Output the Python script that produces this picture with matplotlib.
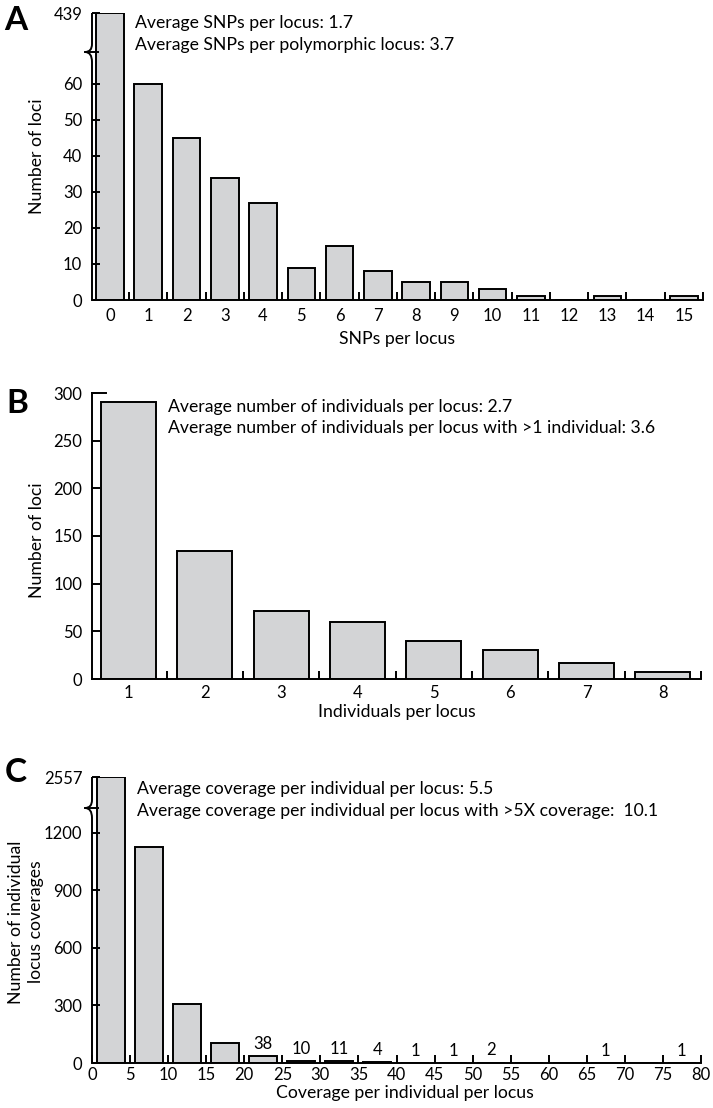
import matplotlib
matplotlib.use('Agg')
import matplotlib.pyplot as plt
import numpy as np
from matplotlib.path import Path
from matplotlib.patches import PathPatch

plt.rcParams['font.family'] = ['Lato', 'DejaVu Sans']

# Panel A data: SNPs per locus
snp_values = list(range(16))
snp_loci = [439, 60, 45, 34, 27, 9, 15, 8, 5, 5, 3, 1, 0, 1, 0, 1]
snp_yticks = [0, 10, 20, 30, 40, 50, 60, 439]

# Panel B data: individuals per locus
ind_values = list(range(1, 9))
ind_loci = [291, 134, 71, 60, 40, 30, 17, 7]
ind_yticks = [0, 50, 100, 150, 200, 250, 300]

# Panel C data: coverage per individual per locus (5X bins)
cov_bins = list(range(0, 80, 5))
cov_counts = [2557, 1127, 308, 105, 38, 10, 11, 4, 1, 1, 2, 0, 0, 1, 0, 1]
cov_yticks = [0, 300, 600, 900, 1200, 2557]
cov_xticks = list(range(0, 85, 5))

FIG_W, FIG_H = 713, 1108
BAR_FC = '#d3d4d6'
LW = 1.4
TXT = 12.7
TICK = 12


def px(x, y):
    # pixel position (from top-left) to figure fraction
    return x / FIG_W, 1 - y / FIG_H


def axes_box(left, top, right, bottom):
    return [left / FIG_W, 1 - bottom / FIG_H, (right - left) / FIG_W, (bottom - top) / FIG_H]


def broken(t, s):
    # linear up to t, compressed above t
    def fwd(y):
        y = np.asarray(y, float)
        return np.where(y <= t, y, t + (y - t) * s)

    def inv(y):
        y = np.asarray(y, float)
        return np.where(y <= t, y, t + (y - t) / s)
    return fwd, inv


def style_axes(ax, hide_left=False):
    for side in ['top', 'right']:
        ax.spines[side].set_visible(False)
    ax.spines['left'].set_linewidth(LW)
    ax.spines['bottom'].set_linewidth(LW)
    if hide_left:
        ax.spines['left'].set_visible(False)
    ax.tick_params(axis='both', direction='in', width=LW, length=6, labelsize=TICK)
    ax.tick_params(axis='x', which='minor', direction='in', width=LW, length=6)
    ax.tick_params(axis='y', pad=7)


def draw_break(ax, h_px, w_px, top_px, mid_px, bot_px, dx_px=7):
    yt, ym, yb = top_px / h_px, mid_px / h_px, bot_px / h_px
    dx = dx_px / w_px
    verts = [(0, 1), (0, yt), (0, ym), (-dx, ym), (0, ym), (0, yb), (0, 0)]
    codes = [Path.MOVETO, Path.LINETO, Path.CURVE3, Path.CURVE3,
             Path.CURVE3, Path.CURVE3, Path.LINETO]
    ax.add_patch(PathPatch(Path(verts, codes), fc='none', ec='black', lw=LW,
                           transform=ax.transAxes, clip_on=False, zorder=5))
    ax.plot([-dx, dx * 0.8], [ym, ym], color='black', lw=LW,
            transform=ax.transAxes, clip_on=False, zorder=5)


fig = plt.figure(figsize=(FIG_W / 100, FIG_H / 100), dpi=100)

# ---------------- Panel A ----------------
axA = fig.add_axes(axes_box(92, 13, 703, 300))
axA.set_yscale('function', functions=broken(66, 0.0367))
axA.bar(snp_values, snp_loci, width=0.72, color=BAR_FC, edgecolor='black', linewidth=LW)
axA.set_ylim(0, 439)
axA.set_xlim(-0.47, 15.5)
axA.set_yticks(snp_yticks)
axA.set_yticklabels([str(v) for v in snp_yticks])
axA.set_xticks(snp_values)
axA.set_xticks(np.arange(0.5, 16, 1), minor=True)
style_axes(axA, hide_left=True)
axA.tick_params(axis='x', which='major', length=0, pad=6)
axA.yaxis.set_minor_locator(matplotlib.ticker.NullLocator())
draw_break(axA, 287, 611, 256, 248, 238)

fig.text(*px(135, 28), 'Average SNPs per locus: 1.7', fontsize=TXT, va='baseline')
fig.text(*px(135, 50), 'Average SNPs per polymorphic locus: 3.7', fontsize=TXT, va='baseline')
fig.text(*px(37, 156), 'Number of loci', fontsize=TXT, rotation=90, ha='center', va='center')
fig.text(*px(397, 339), 'SNPs per locus', fontsize=TXT, ha='center', va='center')
fig.text(*px(4, 30), 'A', fontsize=24, fontweight='bold', va='baseline')

# ---------------- Panel B ----------------
axB = fig.add_axes(axes_box(92, 393, 701, 679))
axB.bar(ind_values, ind_loci, width=0.72, color=BAR_FC, edgecolor='black', linewidth=LW)
axB.set_ylim(0, 300)
axB.set_xlim(0.52, 8.5)
axB.set_yticks(ind_yticks)
axB.set_xticks(ind_values)
axB.set_xticks(np.arange(1.5, 9, 1), minor=True)
style_axes(axB)
axB.tick_params(axis='x', which='major', length=0, pad=4)
axB.plot([0, 14 / 609], [1, 1], color='black', lw=LW, transform=axB.transAxes, clip_on=False)

fig.text(*px(168, 412), 'Average number of individuals per locus: 2.7', fontsize=TXT, va='baseline')
fig.text(*px(168, 433), 'Average number of individuals per locus with >1 individual: 3.6',
         fontsize=TXT, va='baseline')
fig.text(*px(37, 540), 'Number of loci', fontsize=TXT, rotation=90, ha='center', va='center')
fig.text(*px(397, 712), 'Individuals per locus', fontsize=TXT, ha='center', va='center')
fig.text(*px(6, 413), 'B', fontsize=24, fontweight='bold', va='baseline')

# ---------------- Panel C ----------------
axC = fig.add_axes(axes_box(92, 777, 701, 1063))
axC.set_yscale('function', functions=broken(1250, 0.185))
cov_left = [b + 0.6 for b in cov_bins]
axC.bar(cov_left, cov_counts, width=3.7, align='edge', color=BAR_FC,
        edgecolor='black', linewidth=LW)
axC.set_ylim(0, 2557)
axC.set_xlim(0, 80)
axC.set_yticks(cov_yticks)
axC.set_yticklabels([str(v) for v in cov_yticks])
axC.yaxis.set_minor_locator(matplotlib.ticker.NullLocator())
axC.set_xticks(cov_xticks)
style_axes(axC, hide_left=True)
axC.tick_params(axis='x', which='major', pad=3)
draw_break(axC, 286, 609, 263, 255, 245)

for i, (b, c) in enumerate(zip(cov_bins, cov_counts)):
    if i >= 4 and c > 0:
        axC.annotate(str(c), (b + 2.45, c), xytext=(0, 3), textcoords='offset points',
                     ha='center', va='bottom', fontsize=TICK)

fig.text(*px(137, 794), 'Average coverage per individual per locus: 5.5', fontsize=TXT, va='baseline')
fig.text(*px(137, 816), 'Average coverage per individual per locus with >5X coverage:  10.1',
         fontsize=TXT, va='baseline')
fig.text(*px(26, 922), 'Number of individual\nlocus coverages', fontsize=TXT, rotation=90,
         ha='center', va='center', multialignment='center', linespacing=1.25)
fig.text(*px(405, 1093), 'Coverage per individual per locus', fontsize=TXT, ha='center', va='center')
fig.text(*px(5, 782), 'C', fontsize=24, fontweight='bold', va='baseline')

fig.savefig('out.png', dpi=100)
